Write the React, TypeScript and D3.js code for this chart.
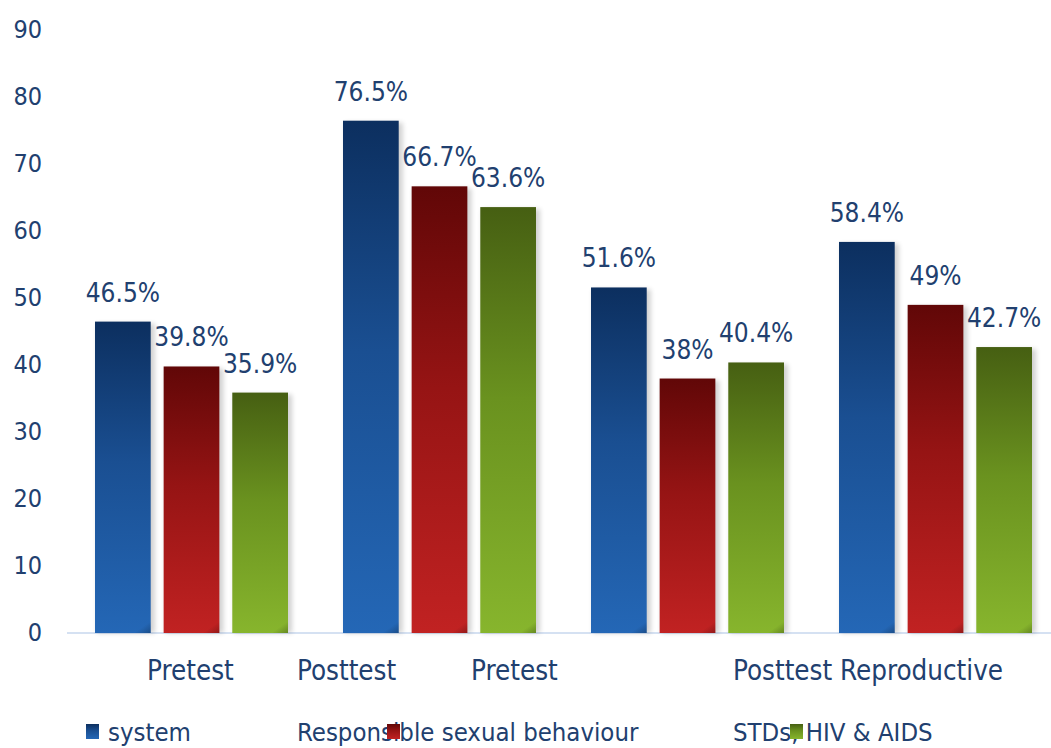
import React from "react";
import * as d3 from "d3";

const groups = ["g1", "g2", "g3", "g4"];
const series = ["system", "Responsible sexual behaviour", "STDs, HIV & AIDS"];
const valuesSystem = [46.5, 76.5, 51.6, 58.4];
const valuesBehaviour = [39.8, 66.7, 38, 49];
const valuesStds = [35.9, 63.6, 40.4, 42.7];
const valueLabels = [
  ["46.5%", "39.8%", "35.9%"],
  ["76.5%", "66.7%", "63.6%"],
  ["51.6%", "38%", "40.4%"],
  ["58.4%", "49%", "42.7%"],
];
const categoryLabels = ["Pretest", "Posttest", "Pretest", "Posttest Reproductive"];
const yTicks = [0, 10, 20, 30, 40, 50, 60, 70, 80, 90];

const W = 1051;
const H = 748;
const FONT = "'DejaVu Sans Condensed', 'DejaVu Sans', sans-serif";
const TEXT = "#21406f";

const gradients = [
  { id: "gBlue", top: "#0c2f5f", mid: "#1a4f92", bottom: "#2467b6" },
  { id: "gRed", top: "#610707", mid: "#961414", bottom: "#c12222" },
  { id: "gGreen", top: "#465f12", mid: "#6a921f", bottom: "#87b52d" },
];

export default function App() {
  const x0 = d3.scaleBand<string>().domain(groups).range([95, 1032]).paddingInner(55 / 248).paddingOuter(0);
  const x1 = d3.scaleBand<string>().domain(series).range([0, x0.bandwidth()]).paddingInner(13 / 69);
  const y = d3.scaleLinear().domain([0, 90]).range([633, 30.3]);
  const seriesValues = [valuesSystem, valuesBehaviour, valuesStds];

  // category label x positions (left edges) relative to layout
  const catX = [147, 297, 471, 733];
  const legendText = [108, 297, 733];
  const legendSq = [86, 387, 790];

  return (
    <svg width={W} height={H} style={{ position: "absolute", left: 0, top: 0, background: "#fff" }}>
      <defs>
        {gradients.map((g) => (
          <linearGradient key={g.id} id={g.id} x1="0" y1="0" x2="0" y2="1">
            <stop offset="0" stopColor={g.top} />
            <stop offset="0.45" stopColor={g.mid} />
            <stop offset="1" stopColor={g.bottom} />
          </linearGradient>
        ))}
        <linearGradient id="corner" x1="0" y1="0" x2="1" y2="1">
          <stop offset="0.85" stopColor="#000" stopOpacity="0" />
          <stop offset="1" stopColor="#000" stopOpacity="0.25" />
        </linearGradient>
        <filter id="shadow" x="-20%" y="-5%" width="140%" height="110%">
          <feGaussianBlur stdDeviation="2.5" />
        </filter>
      </defs>
      <line x1={67} x2={W} y1={633} y2={633} stroke="#c7d7ee" strokeWidth={1.5} />
      {yTicks.map((t) => (
        <text key={t} x={42} y={y(t) + 8} textAnchor="end" fontFamily={FONT} fontSize={25} fill={TEXT}>
          {t}
        </text>
      ))}
      {groups.map((g, gi) => (
        <g key={g} transform={`translate(${x0(g)},0)`}>
          {series.map((s, si) => {
            const v = seriesValues[si][gi];
            const bx = x1(s)!;
            const bw = x1.bandwidth();
            return (
              <g key={s}>
                <rect x={bx + 2} y={y(v) + 2} width={bw + 2} height={633 - y(v) - 2} fill="#000" opacity={0.18} filter="url(#shadow)" />
                <rect x={bx} y={y(v)} width={bw} height={633 - y(v)} fill={`url(#${gradients[si].id})`} />
                <rect x={bx} y={Math.max(y(v), 633 - 40)} width={bw} height={Math.min(40, 633 - y(v))} fill="url(#corner)" />
                <text x={bx + bw / 2} y={y(v) - 20} textAnchor="middle" fontFamily={FONT} fontSize={26} fill={TEXT}>
                  {valueLabels[gi][si]}
                </text>
              </g>
            );
          })}
        </g>
      ))}
      {categoryLabels.map((c, i) => (
        <text key={i} x={catX[i]} y={680} fontFamily={FONT} fontSize={27.5} fill={TEXT}>
          {c}
        </text>
      ))}
      {series.map((s, i) => (
        <text key={s} x={legendText[i]} y={741} fontFamily={FONT} fontSize={25.5} fill={TEXT}>
          {s}
        </text>
      ))}
      {series.map((s, i) => (
        <rect key={s + "sq"} x={legendSq[i]} y={724} width={13} height={15} fill={`url(#${gradients[i].id})`} />
      ))}
    </svg>
  );
}
